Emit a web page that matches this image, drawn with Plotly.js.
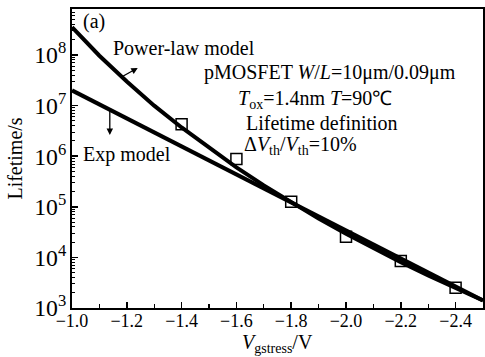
<!DOCTYPE html>
<html>
<head>
<meta charset="utf-8">
<script src="https://cdn.plot.ly/plotly-3.0.1.min.js"></script>
<style>
html,body{margin:0;padding:0;background:#fff;}
#chart{width:485px;height:357px;}
</style>
</head>
<body>
<div id="chart"></div>
<script>
// Stress voltage grid for the model curves (V)
var vModel = [-1.0, -1.1, -1.2, -1.3, -1.4, -1.5, -1.6, -1.7, -1.8, -1.9, -2.0, -2.1, -2.2, -2.3, -2.4, -2.5];
// Power-law model lifetime (s)
var powerLaw = [3.55e8, 9.7e7, 3.0e7, 1.0e7, 3.7e6, 1.45e6, 6.0e5, 2.65e5, 1.22e5, 5.85e4, 2.92e4, 1.5e4, 8.0e3, 4.4e3, 2.46e3, 1.41e3];
// Exp model (straight line on semilog) endpoints
var vExp = [-1.0, -2.5];
var expModel = [2.0e7, 1.41e3];
// Measured lifetimes
var vMeas = [-1.4, -1.6, -1.8, -2.0, -2.2, -2.4];
var lifeMeas = [4.3e6, 8.8e5, 1.26e5, 2.55e4, 8.5e3, 2.5e3];

var F = "'Liberation Serif','Times New Roman',serif";

var traces = [
  {x: vModel, y: powerLaw, mode: 'lines', line: {color: '#000', width: 4}, hoverinfo: 'skip'},
  {x: vExp, y: expModel, mode: 'lines', line: {color: '#000', width: 4}, hoverinfo: 'skip'},
  {x: vMeas, y: lifeMeas, mode: 'markers',
   marker: {symbol: 'square-open', size: 11, color: '#000', line: {width: 1.5, color: '#000'}}}
];

function txt(t, xp, yp, size, anchor) {
  return {text: t, xref: 'paper', yref: 'paper', x: xp, y: yp, xanchor: anchor || 'left', yanchor: 'middle',
          showarrow: false, font: {family: F, size: size || 20, color: '#000'}};
}

var layout = {
  width: 485, height: 357,
  margin: {l: 72, r: 2, t: 9, b: 49},
  paper_bgcolor: '#fff', plot_bgcolor: '#fff',
  showlegend: false,
  font: {family: F, size: 19, color: '#000'},
  xaxis: {
    range: [-1.0, -2.5], dtick: 0.2, tick0: -1.0, tickformat: '.1f',
    ticks: 'inside', ticklen: 6, tickwidth: 1.5, tickcolor: '#000',
    ticklabelstandoff: -5,
    minor: {dtick: 0.1, ticks: 'inside', ticklen: 4, tickwidth: 1.2, tickcolor: '#000', showgrid: false},
    showline: true, linewidth: 2, linecolor: '#000', mirror: true,
    showgrid: false, zeroline: false,
    tickfont: {family: F, size: 18}
  },
  yaxis: {
    type: 'log', range: [3, 8.91], dtick: 1, exponentformat: 'power',
    ticks: 'inside', ticklen: 6, tickwidth: 1.5, tickcolor: '#000',
    minor: {dtick: 'D1', ticks: 'inside', ticklen: 3, tickwidth: 1, tickcolor: '#000', showgrid: false},
    showline: true, linewidth: 2, linecolor: '#000', mirror: true,
    showgrid: false, zeroline: false,
    tickfont: {family: F, size: 19},
    title: {text: 'Lifetime/s', font: {family: F, size: 20}, standoff: 6}
  },
  annotations: [
    txt('<i>V</i><sub>gstress</sub>/V', 0.5, -0.118, 20, 'center'),
    txt('(a)', 0.022, 0.957),
    txt('Power-law model', 0.095, 0.870),
    txt('pMOSFET <i>W</i>/<i>L</i>=10μm/0.09μm', 0.317, 0.786),
    txt('<i>T</i><sub>ox</sub>=1.4nm <i>T</i>=90℃', 0.399, 0.696),
    txt('Lifetime definition', 0.419, 0.619),
    txt('Δ<i>V</i><sub>th</sub>/<i>V</i><sub>th</sub>=10%', 0.414, 0.545),
    txt('Exp model', 0.022, 0.515),
    {x: -1.240, y: 7.746, xref: 'x', yref: 'y', text: '', showarrow: true,
     ax: -16, ay: 9, arrowhead: 2, arrowsize: 1, arrowwidth: 1.3, arrowcolor: '#000'},
    {x: -1.138, y: 6.42, xref: 'x', yref: 'y', text: '', showarrow: true,
     ax: 0, ay: -26, arrowhead: 2, arrowsize: 1, arrowwidth: 1.3, arrowcolor: '#000'}
  ]
};

Plotly.newPlot('chart', traces, layout, {displayModeBar: false, staticPlot: true});
</script>
</body>
</html>
